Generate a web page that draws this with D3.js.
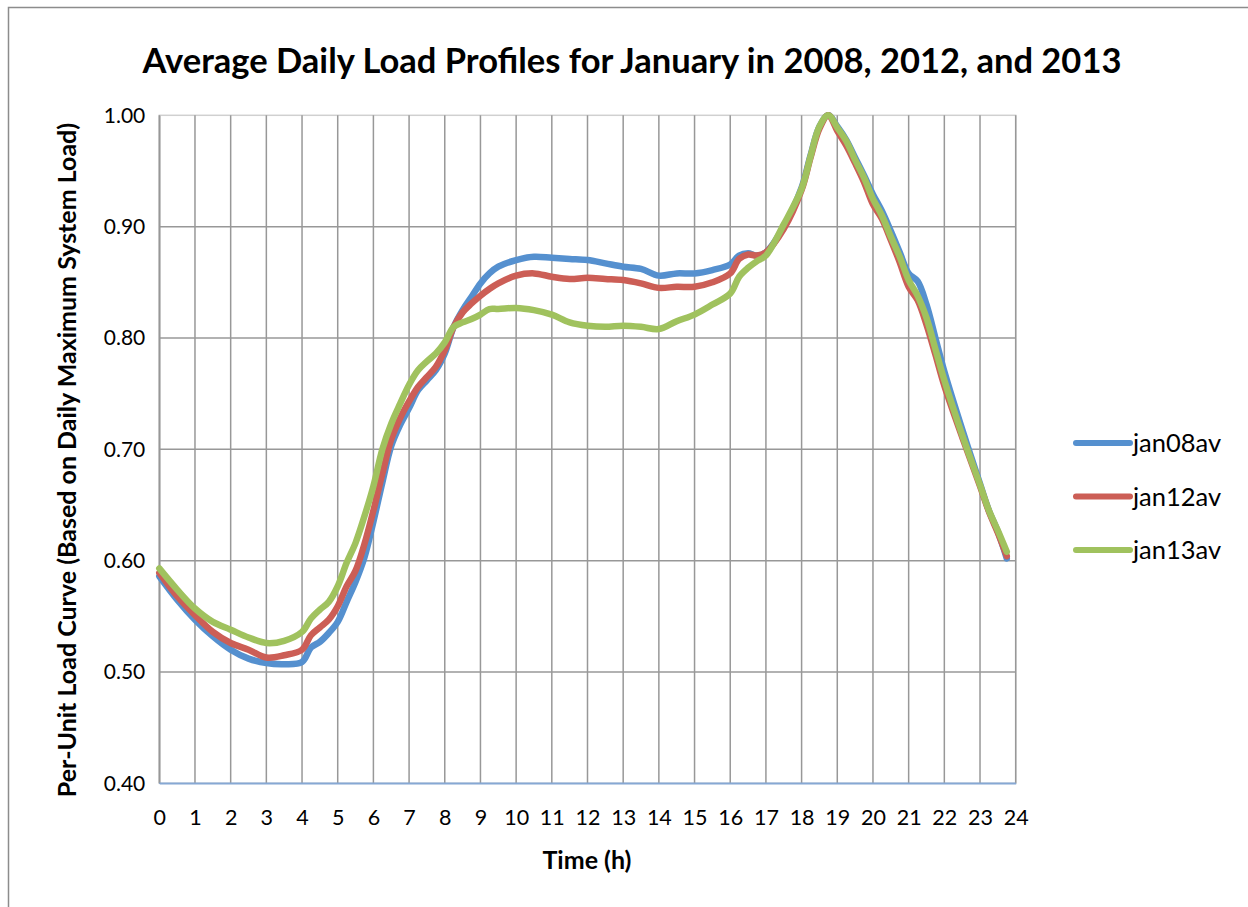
<!DOCTYPE html>
<html>
<head>
<meta charset="utf-8">
<script src="https://cdn.jsdelivr.net/npm/d3@7"></script>
<style>
  body { margin: 0; background: #fff; }
  svg { display: block; }
  text { font-family: Lato, "Open Sans", sans-serif; fill: #000; }
</style>
</head>
<body>
<div id="chart"></div>
<script>
// hours of day (15/30 min samples)
const hours = [0,0.5,1,1.5,2,2.5,3,3.5,4,4.25,4.5,4.75,5,5.25,5.5,5.75,6,6.25,6.5,6.75,7,7.25,7.5,7.75,8,8.25,8.5,8.75,9,9.25,9.5,10,10.5,11,11.5,12,12.5,13,13.5,14,14.5,15,15.5,16,16.25,16.5,16.75,17,17.5,18,18.25,18.5,18.75,19,19.25,19.5,19.75,20,20.25,20.5,20.75,21,21.25,21.5,21.75,22,22.5,23,23.25,23.5,23.75];

const jan08av = [0.586,0.565,0.547,0.532,0.520,0.512,0.508,0.507,0.509,0.522,0.527,0.535,0.545,0.563,0.581,0.603,0.635,0.670,0.703,0.722,0.737,0.753,0.762,0.771,0.786,0.810,0.825,0.837,0.849,0.858,0.864,0.870,0.873,0.872,0.871,0.870,0.867,0.864,0.862,0.856,0.858,0.858,0.861,0.866,0.874,0.876,0.874,0.877,0.900,0.935,0.964,0.990,1.000,0.990,0.978,0.962,0.946,0.929,0.914,0.896,0.877,0.858,0.851,0.830,0.800,0.770,0.718,0.669,0.645,0.626,0.602];

const jan12av = [0.589,0.568,0.551,0.536,0.526,0.520,0.513,0.515,0.520,0.533,0.540,0.547,0.559,0.577,0.591,0.615,0.645,0.678,0.709,0.728,0.743,0.756,0.765,0.774,0.789,0.810,0.823,0.831,0.838,0.844,0.849,0.856,0.858,0.855,0.853,0.854,0.853,0.852,0.849,0.845,0.846,0.846,0.850,0.858,0.871,0.875,0.874,0.877,0.898,0.933,0.962,0.988,1.000,0.986,0.973,0.957,0.940,0.920,0.907,0.888,0.868,0.846,0.834,0.812,0.785,0.757,0.711,0.667,0.644,0.625,0.604];

const jan13av = [0.593,0.574,0.557,0.545,0.538,0.531,0.526,0.528,0.536,0.548,0.556,0.563,0.577,0.598,0.616,0.640,0.667,0.700,0.723,0.741,0.758,0.771,0.779,0.786,0.796,0.810,0.814,0.817,0.821,0.826,0.826,0.827,0.825,0.821,0.814,0.811,0.810,0.811,0.810,0.808,0.815,0.821,0.830,0.840,0.855,0.863,0.869,0.874,0.902,0.934,0.963,0.990,1.000,0.989,0.977,0.960,0.944,0.925,0.910,0.891,0.873,0.852,0.838,0.818,0.790,0.762,0.713,0.668,0.645,0.627,0.608];

const seriesNames = ["jan08av", "jan12av", "jan13av"];
const seriesColors = ["#5590cf", "#cc5e56", "#a0c25e"];
const seriesValues = [jan08av, jan12av, jan13av];

const xTicks = d3.range(0, 25, 1);
const yTicks = [0.4, 0.5, 0.6, 0.7, 0.8, 0.9, 1.0];

const width = 1248, height = 907;
const plot = { left: 159.3, right: 1015.7, top: 115.3, bottom: 783.3 };

const svg = d3.select("#chart").append("svg")
  .attr("width", width)
  .attr("height", height);

// chart border
svg.append("rect")
  .attr("x", 8.5).attr("y", 7.5)
  .attr("width", 1300).attr("height", 1000)
  .attr("fill", "#fff")
  .attr("stroke", "#8c8c8c")
  .attr("stroke-width", 1.5);

const x = d3.scaleLinear().domain([0, 24]).range([plot.left, plot.right]);
const y = d3.scaleLinear().domain([0.4, 1.0]).range([plot.bottom, plot.top]);

// plot area outline
svg.append("rect")
  .attr("x", plot.left).attr("y", plot.top)
  .attr("width", plot.right - plot.left)
  .attr("height", plot.bottom - plot.top)
  .attr("fill", "none")
  .attr("stroke", "#d0d0d0")
  .attr("stroke-width", 1.5);

// gridlines
svg.append("g").selectAll("line")
  .data(xTicks)
  .join("line")
  .attr("x1", d => x(d)).attr("x2", d => x(d))
  .attr("y1", plot.top).attr("y2", plot.bottom)
  .attr("stroke", "#989898")
  .attr("stroke-width", 1.5);

svg.append("g").selectAll("line")
  .data(yTicks.filter(d => d > 0.4 && d < 1))
  .join("line")
  .attr("x1", plot.left).attr("x2", plot.right)
  .attr("y1", d => y(d)).attr("y2", d => y(d))
  .attr("stroke", "#989898")
  .attr("stroke-width", 1.5);

// axes
const xAxis = d3.axisBottom(x).tickValues(xTicks).tickSize(0).tickPadding(26).tickFormat(d3.format("d"));
const gx = svg.append("g")
  .attr("transform", `translate(0,${plot.bottom})`)
  .call(xAxis);
gx.select(".domain").attr("stroke", "#86a8d4").attr("stroke-width", 1.5);
gx.selectAll("text").attr("font-size", 21.5).attr("font-family", "Lato");

const yAxis = d3.axisLeft(y).tickValues(yTicks).tickSize(0).tickPadding(14).tickFormat(d3.format(".2f"));
const gy = svg.append("g")
  .attr("transform", `translate(${plot.left},0)`)
  .call(yAxis);
gy.select(".domain").attr("stroke", "#989898").attr("stroke-width", 1.5);
gy.selectAll("text").attr("font-size", 21).attr("font-family", "Lato");

// blue-ish baseline drawn over the left axis line
svg.append("line")
  .attr("x1", plot.left).attr("x2", plot.right)
  .attr("y1", plot.bottom).attr("y2", plot.bottom)
  .attr("stroke", "#86a8d4").attr("stroke-width", 1.5);

// series lines
const line = d3.line()
  .x((d, i) => x(hours[i]))
  .y(d => y(d))
  .curve(d3.curveCatmullRom.alpha(0.5));

svg.append("g").selectAll("path")
  .data(seriesValues)
  .join("path")
  .attr("d", d => line(d))
  .attr("fill", "none")
  .attr("stroke", (d, i) => seriesColors[i])
  .attr("stroke-width", 6.5)
  .attr("stroke-linecap", "round")
  .attr("stroke-linejoin", "round");

// legend
const legend = svg.append("g").attr("transform", "translate(1076,443)");
const item = legend.selectAll("g")
  .data(seriesNames)
  .join("g")
  .attr("transform", (d, i) => `translate(0,${i * 53.5})`);
item.append("line")
  .attr("x1", 0).attr("x2", 54)
  .attr("stroke", (d, i) => seriesColors[i])
  .attr("stroke-width", 6)
  .attr("stroke-linecap", "round");
item.append("text")
  .attr("x", 57).attr("y", 0)
  .attr("dy", "0.36em")
  .attr("font-size", 25.5)
  .text(d => d);

// titles
svg.append("text")
  .attr("x", 632).attr("y", 73)
  .attr("text-anchor", "middle")
  .attr("font-size", 34.5)
  .attr("font-weight", "bold")
  .text("Average Daily Load Profiles for January in 2008, 2012, and 2013");

svg.append("text")
  .attr("x", 587).attr("y", 869)
  .attr("text-anchor", "middle")
  .attr("font-size", 25)
  .attr("font-weight", "bold")
  .text("Time (h)");

svg.append("text")
  .attr("transform", "translate(76,460) rotate(-90)")
  .attr("text-anchor", "middle")
  .attr("font-size", 25)
  .attr("font-weight", "bold")
  .text("Per-Unit Load Curve (Based on Daily Maximum System Load)");
</script>
</body>
</html>
